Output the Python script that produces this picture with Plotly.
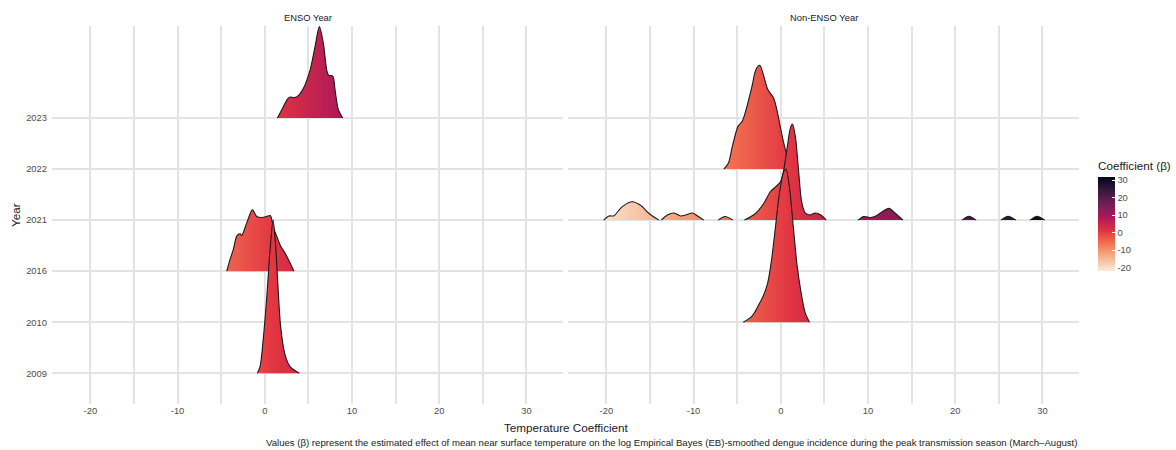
import plotly.graph_objects as go

# ---------------- data ----------------
years = ["2009", "2010", "2016", "2021", "2022", "2023"]
x_ticks = [-20, -10, 0, 10, 20, 30]
x_tick_text = ["-20", "-10", "0", "10", "20", "30"]
cbar_ticks = [-20, -10, 0, 10, 20, 30]
cbar_tick_text = ["-20", "-10", "0", "10", "20", "30"]
coef_min, coef_max = -21.7, 31.9

# ENSO Year ridges (x = coefficient, h = ridge height in category units)
enso_2023_x = [1.45, 1.95, 2.6, 2.9, 3.3, 3.67, 4.43, 5.2, 5.77, 6.26, 6.72, 7.1, 7.3, 7.8, 8.06, 8.44, 8.94]
enso_2023_h = [0, 0.16, 0.37, 0.41, 0.40, 0.41, 0.58, 0.94, 1.40, 1.79, 1.46, 0.94, 0.84, 0.82, 0.55, 0.16, 0]

enso_2016_x = [-4.36, -3.98, -3.6, -3.2, -2.83, -2.64, -2.06, -1.42, -0.92, -0.34, 0.2, 0.63, 1.0, 1.45, 1.8, 2.4, 3.35]
enso_2016_h = [0, 0.23, 0.43, 0.69, 0.73, 0.70, 0.95, 1.20, 1.07, 1.05, 1.07, 1.09, 0.85, 0.65, 0.5, 0.33, 0]

enso_2009_x = [-0.85, -0.54, -0.16, 0.23, 0.6, 0.95, 1.2, 1.5, 1.8, 2.3, 2.9, 3.97]
enso_2009_h = [0, 0.13, 0.7, 1.5, 2.4, 3.0, 2.6, 1.75, 0.95, 0.38, 0.13, 0]

# Non-ENSO Year ridges
non_2022_x = [-6.53, -6.0, -5.56, -4.89, -4.43, -3.98, -3.3, -2.85, -2.4, -1.95, -1.5, -0.82, -0.37, 0.08, 0.53, 1.0, 1.5]
non_2022_h = [0, 0.12, 0.44, 0.84, 0.93, 1.16, 1.62, 1.95, 2.03, 1.82, 1.56, 1.39, 1.10, 0.71, 0.38, 0.15, 0]

non_2021_a_x = [-20.3, -19.7, -19.13, -18.2, -17.03, -16.08, -15.1, -13.97]
non_2021_a_h = [0, 0.08, 0.085, 0.26, 0.36, 0.29, 0.13, 0]
non_2021_b_x = [-13.7, -13.0, -12.24, -11.49, -10.9, -10.15, -9.4, -8.83]
non_2021_b_h = [0, 0.1, 0.14, 0.08, 0.1, 0.14, 0.065, 0]
non_2021_c_x = [-7.17, -6.4, -5.5]
non_2021_c_h = [0, 0.07, 0]
non_2021_d_x = [-4.16, -2.9, -1.94, -1.18, -0.6, -0.03, 0.35, 0.76, 1.1, 1.35, 1.7, 2.05, 2.4, 2.8, 3.3, 3.95, 4.6, 5.2]
non_2021_d_h = [0, 0.13, 0.33, 0.56, 0.65, 0.75, 0.99, 1.45, 1.8, 1.88, 1.6, 0.95, 0.35, 0.14, 0.1, 0.14, 0.1, 0]
non_2021_e_x = [8.87, 9.52, 10.3, 10.9, 11.6, 12.4, 13.16, 14.0]
non_2021_e_h = [0, 0.07, 0.05, 0.08, 0.16, 0.23, 0.13, 0]
non_2021_f_x = [20.8, 21.57, 22.4]
non_2021_f_h = [0, 0.075, 0]
non_2021_g_x = [25.26, 26.06, 26.97]
non_2021_g_h = [0, 0.075, 0]
non_2021_h_x = [28.6, 29.39, 30.27]
non_2021_h_h = [0, 0.075, 0]

non_2010_x = [-4.3, -3.3, -2.63, -1.95, -1.5, -1.05, -0.6, -0.14, 0.31, 0.6, 0.98, 1.43, 1.88, 2.33, 2.79, 3.3]
non_2010_h = [0, 0.12, 0.31, 0.54, 0.77, 1.23, 1.88, 2.54, 2.93, 3.0, 2.66, 1.88, 1.1, 0.58, 0.19, 0]

# drawing order: top ridge first so lower ridges sit in front
enso_ridges = [("2023", [(enso_2023_x, enso_2023_h)]),
               ("2016", [(enso_2016_x, enso_2016_h)]),
               ("2009", [(enso_2009_x, enso_2009_h)])]
non_ridges = [("2022", [(non_2022_x, non_2022_h)]),
              ("2021", [(non_2021_a_x, non_2021_a_h), (non_2021_b_x, non_2021_b_h),
                        (non_2021_c_x, non_2021_c_h), (non_2021_d_x, non_2021_d_h),
                        (non_2021_e_x, non_2021_e_h), (non_2021_f_x, non_2021_f_h),
                        (non_2021_g_x, non_2021_g_h), (non_2021_h_x, non_2021_h_h)]),
              ("2010", [(non_2010_x, non_2010_h)])]

# "rocket" palette (dark -> light), reversed so low values are light
rocket_pos = [0.0, 1 / 7, 2 / 7, 3 / 7, 4 / 7, 5 / 7, 6 / 7, 1.0]
rocket_col = ["#03051A", "#35193E", "#701F57", "#AD1759", "#E13342", "#F37651", "#F6B48F", "#FAEBDD"]
colorscale = sorted([[1 - p, c] for p, c in zip(rocket_pos, rocket_col)], key=lambda t: t[0])

# ---------------- figure ----------------
W, H = 1176, 450
fig = go.Figure()


def add_ridges(ridges, xa, ya):
    for year, segs in ridges:
        base = years.index(year) + 1
        for xs, hs in segs:
            # invisible baseline
            fig.add_trace(go.Scatter(x=[xs[0], xs[-1]], y=[base, base], mode="lines",
                                     line=dict(width=0, color="rgba(0,0,0,0)"),
                                     xaxis=xa, yaxis=ya, hoverinfo="skip", showlegend=False))
            fig.add_trace(go.Scatter(
                x=xs, y=[base + h for h in hs], mode="lines",
                line=dict(color="#1a1a1a", width=1.1, shape="spline", smoothing=0.8),
                fill="tonexty",
                fillgradient=dict(type="horizontal", colorscale=colorscale,
                                  start=coef_min, stop=coef_max),
                xaxis=xa, yaxis=ya, hoverinfo="skip", showlegend=False))


add_ridges(enso_ridges, "x", "y")
add_ridges(non_ridges, "x2", "y2")

# colour bar carrier
fig.add_trace(go.Scatter(
    x=[None], y=[None], mode="markers", xaxis="x", yaxis="y", showlegend=False, hoverinfo="skip",
    marker=dict(color=[coef_min], colorscale=colorscale, cmin=coef_min, cmax=coef_max, showscale=True,
                colorbar=dict(x=1098 / W, xanchor="left", xpad=0, y=1 - 270.7 / H, yanchor="bottom",
                              ypad=0, len=112, lenmode="pixels", thickness=17, thicknessmode="pixels",
                              outlinewidth=0, tickvals=cbar_ticks, ticktext=cbar_tick_text,
                              ticks="inside", ticklen=3,
                              tickcolor="white", tickfont=dict(size=9.4, color="#4D4D4D"),
                              title=dict(text="Coefficient (β)", side="top",
                                         font=dict(size=11.7, color="#1a1a1a"))))))

grid_c = "#E3E3E3"
xcommon = dict(range=[-24.4, 34.2], tickvals=x_ticks, ticktext=x_tick_text, showgrid=True,
               gridcolor=grid_c, gridwidth=1.8,
               zeroline=False, showline=False, ticks="",
               tickfont=dict(size=9.4, color="#4D4D4D"),
               minor=dict(dtick=5, tick0=0, showgrid=True, gridcolor=grid_c, gridwidth=1.6))
ycommon = dict(range=[0.4, 7.8], tickvals=list(range(1, len(years) + 1)), ticktext=years,
               showgrid=True, gridcolor=grid_c, gridwidth=1.8, zeroline=False, showline=False, ticks="",
               tickfont=dict(size=9.4, color="#4D4D4D"),
               domain=[1 - 404 / H, 1 - 26 / H])

fig.update_layout(
    width=W, height=H, margin=dict(l=0, r=0, t=0, b=0),
    plot_bgcolor="white", paper_bgcolor="white", showlegend=False,
    font=dict(family="Liberation Sans, Arial, sans-serif"),
    xaxis=dict(domain=[52 / W, 563 / W], anchor="y", **xcommon),
    xaxis2=dict(domain=[568 / W, 1079 / W], anchor="y2", **xcommon),
    yaxis=dict(anchor="x", ticklabelstandoff=4, **ycommon),
    yaxis2=dict(anchor="x2", matches="y", showticklabels=False, **ycommon),
)

ann = dict(xref="paper", yref="paper", showarrow=False)
fig.add_annotation(text="ENSO Year", x=307.5 / W, y=1 - 17.3 / H, xanchor="center", yanchor="middle",
                   font=dict(size=9.4, color="#1a1a1a"), **ann)
fig.add_annotation(text="Non-ENSO Year", x=823.5 / W, y=1 - 17.3 / H, xanchor="center", yanchor="middle",
                   font=dict(size=9.4, color="#1a1a1a"), **ann)
fig.add_annotation(text="Year", x=15 / W, y=1 - 215 / H, xanchor="center", yanchor="middle",
                   textangle=-90, font=dict(size=11.7, color="#1a1a1a"), **ann)
fig.add_annotation(text="Temperature Coefficient", x=566 / W, y=1 - 427.7 / H, xanchor="center",
                   yanchor="middle", font=dict(size=11.7, color="#1a1a1a"), **ann)
fig.add_annotation(text="Values (β) represent the estimated effect of mean near surface temperature on the log "
                        "Empirical Bayes (EB)-smoothed dengue incidence during the peak transmission season "
                        "(March–August)",
                   x=1079 / W, y=1 - 442.3 / H, xanchor="right", yanchor="middle",
                   font=dict(size=9.6, color="#1a1a1a"), **ann)

fig.write_html("out.html")
